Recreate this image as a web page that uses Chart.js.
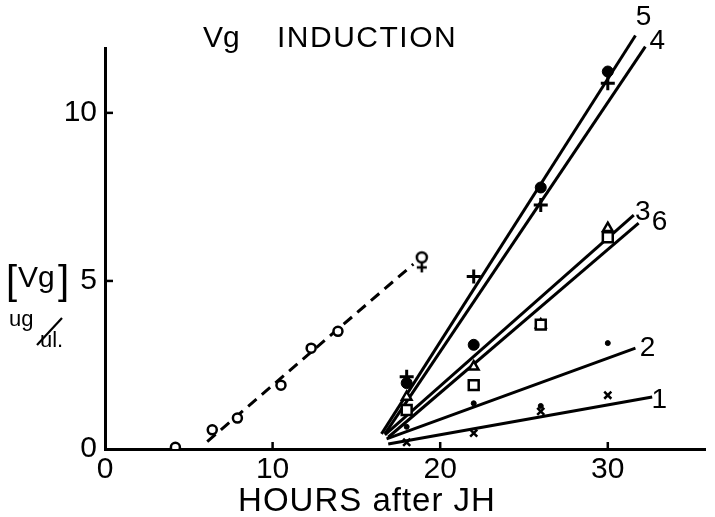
<!DOCTYPE html>
<html>
<head>
<meta charset="utf-8">
<script src="https://cdn.jsdelivr.net/npm/chart.js@4.4.1/dist/chart.umd.min.js"></script>
<style>
  html, body { margin: 0; padding: 0; background: #fff; }
  #wrap { width: 715px; height: 517px; }
</style>
</head>
<body>
<div id="wrap"><canvas id="c" width="715" height="517"></canvas></div>
<script>
// Sampling times after JH treatment (hours)
const sampleHours = [18, 22, 26, 30];

// Haemolymph Vg (ug/ul) for each treatment group
const vgGroup1 = [0.2, 0.47, 1.12, 1.6];    // x
const vgGroup2 = [0.66, 1.36, 1.28, 3.15];  // small dot
const vgGroup3 = [1.55, 2.45, 3.7, 6.57];   // open triangle
const vgGroup4 = [2.15, 5.13, 7.26, 10.88]; // cross
const vgGroup5 = [1.96, 3.1, 7.78, 11.23];  // filled circle
const vgGroup6 = [1.16, 1.9, 3.7, 6.3];     // open square

// Female reference series
const femaleHours = [4.2, 6.4, 7.9, 10.5, 12.3, 13.9, 18.9];
const femaleVg = [0.05, 0.57, 0.92, 1.9, 3.0, 3.5, 5.7];

// Regression lines (start and end), in order of group 1..6
const fitLabels = ['1', '2', '3', '4', '5', '6'];
const fitStartHours = [16.9, 16.8, 16.7, 16.7, 16.5, 16.9];
const fitStartVg = [0.15, 0.3, 0.42, 0.45, 0.45, 0.35];
const fitEndHours = [32.65, 31.65, 31.55, 32.24, 31.65, 31.84];
const fitEndVg = [1.55, 3.0, 6.96, 11.97, 12.3, 6.72];

// Female regression (dashed)
const femaleFitHours = [6.1, 18.4];
const femaleFitVg = [0.22, 5.5];

// Axis ticks
const xTicks = [0, 10, 20, 30];
const yTicks = [0, 5, 10];

const FONT = '"Liberation Sans", Arial, sans-serif';
const INK = '#000';

// Offsets (px) of each line's number from its end point
const fitLabelOffsets = [[7, 3], [12, 0], [9, -3], [12, -5], [8, -18], [21, -1]];

function pts(xs, ys) { return xs.map((x, i) => ({ x: x, y: ys[i] })); }

// Female symbol used for the last female point
function femaleGlyph() {
  const cv = document.createElement('canvas');
  cv.width = 20; cv.height = 42;
  const g = cv.getContext('2d');
  g.strokeStyle = INK; g.lineWidth = 2.5; g.fillStyle = '#fff';
  g.beginPath(); g.arc(10, 21, 5, 0, Math.PI * 2); g.fill(); g.stroke();
  g.beginPath(); g.moveTo(10, 26); g.lineTo(10, 36); g.moveTo(5, 31); g.lineTo(15, 31); g.stroke();
  return cv;
}
const femaleSymbol = femaleGlyph();

const datasets = [];

// regression lines
fitLabels.forEach((lab, i) => {
  datasets.push({
    type: 'line',
    label: 'fit ' + lab,
    data: pts([fitStartHours[i], fitEndHours[i]], [fitStartVg[i], fitEndVg[i]]),
    borderColor: INK, borderWidth: 3, pointRadius: 0, fill: false,
    clip: false, order: 5
  });
});
datasets.push({
  type: 'line',
  label: 'female fit',
  data: pts(femaleFitHours, femaleFitVg),
  borderColor: INK, borderWidth: 3, borderDash: [11, 7], pointRadius: 0,
  fill: false, order: 5
});

function markerSet(label, ys, style, radius, filled, width) {
  return {
    type: 'scatter', label: label, data: pts(sampleHours, ys),
    pointStyle: style, pointRadius: radius, borderColor: INK,
    backgroundColor: filled ? INK : '#fff', borderWidth: width, order: 1
  };
}
datasets.push(markerSet('1', vgGroup1, 'crossRot', 5, false, 2.5));
datasets.push(markerSet('2', vgGroup2, 'circle', 2.5, true, 1));
datasets.push(markerSet('6', vgGroup6, 'rect', 7, false, 2.5));
datasets.push(markerSet('3', vgGroup3, 'triangle', 5.5, false, 2.5));
datasets.push(markerSet('5', vgGroup5, 'circle', 5.5, true, 1));
datasets.push(markerSet('4', vgGroup4, 'cross', 7, false, 3));

datasets.push({
  type: 'scatter', label: 'female',
  data: pts(femaleHours, femaleVg),
  pointStyle: femaleHours.map((h, i) => i === femaleHours.length - 1 ? femaleSymbol : 'circle'),
  pointRadius: 4.5, borderColor: INK, backgroundColor: '#fff', borderWidth: 2.5, order: 1
});

const decor = {
  id: 'decor',
  beforeDraw(chart) {
    const c = chart.ctx;
    c.save(); c.fillStyle = '#fff'; c.fillRect(0, 0, chart.width, chart.height); c.restore();
  },
  afterDraw(chart) {
    const c = chart.ctx;
    const xs = chart.scales.x, ys = chart.scales.y;
    const a = chart.chartArea;
    c.save();
    c.strokeStyle = INK; c.fillStyle = INK; c.lineWidth = 2.5;

    // inward tick marks
    xTicks.slice(1).forEach(v => {
      const px = xs.getPixelForValue(v);
      c.beginPath(); c.moveTo(px, a.bottom); c.lineTo(px, a.bottom - 7); c.stroke();
    });
    yTicks.slice(1).forEach(v => {
      const py = ys.getPixelForValue(v);
      c.beginPath(); c.moveTo(a.left, py); c.lineTo(a.left + 8, py); c.stroke();
    });

    // title
    c.textBaseline = 'alphabetic'; c.textAlign = 'left';
    c.font = '30px ' + FONT;
    c.fillText('Vg', 203, 47);
    c.letterSpacing = '1.5px';
    c.fillText('INDUCTION', 277, 47);
    c.letterSpacing = '0px';

    // x axis title
    c.font = '33px ' + FONT;
    c.textAlign = 'center';
    c.letterSpacing = '1px';
    c.fillText('HOURS after JH', 367, 511);
    c.letterSpacing = '0px';

    // y axis title
    c.textAlign = 'left';
    c.font = '40px ' + FONT;
    c.fillText('[', 6, 294);
    c.fillText(']', 58, 294);
    c.font = '30px ' + FONT;
    c.fillText('Vg', 18, 287);
    c.font = '22px ' + FONT;
    c.fillText('ug', 9, 326);
    c.fillText('ul.', 40, 347);
    c.lineWidth = 2.2;
    c.beginPath(); c.moveTo(37, 345); c.lineTo(62, 318); c.stroke();

    // line numbers
    c.font = '28px ' + FONT;
    c.textAlign = 'center'; c.textBaseline = 'middle';
    fitLabels.forEach((lab, i) => {
      const px = xs.getPixelForValue(fitEndHours[i]) + fitLabelOffsets[i][0];
      const py = ys.getPixelForValue(fitEndVg[i]) + fitLabelOffsets[i][1];
      c.fillText(lab, px, py);
    });
    c.restore();
  }
};

new Chart(document.getElementById('c'), {
  data: { datasets: datasets },
  options: {
    responsive: false,
    maintainAspectRatio: false,
    animation: false,
    devicePixelRatio: 1,
    layout: { padding: { top: 48, right: 0, left: 0, bottom: 0 } },
    plugins: { legend: { display: false }, title: { display: false }, tooltip: { enabled: false } },
    scales: {
      x: {
        type: 'linear', position: 'bottom', min: 0, max: 35.8,
        border: { display: true, color: INK, width: 3 },
        grid: { display: true, drawOnChartArea: false, drawTicks: false },
        ticks: {
          stepSize: 10, includeBounds: false, autoSkip: false, maxRotation: 0,
          padding: 3, color: INK, font: { family: FONT, size: 30 }
        },
        afterFit(s) { s.height = 68; }
      },
      y: {
        type: 'linear', position: 'left', min: 0, max: 11.93,
        border: { display: true, color: INK, width: 3 },
        grid: { display: true, drawOnChartArea: false, drawTicks: false },
        ticks: {
          stepSize: 5, includeBounds: false, autoSkip: false,
          padding: 8, color: INK, font: { family: FONT, size: 30 }
        },
        afterFit(s) { s.width = 105; }
      }
    }
  },
  plugins: [decor]
});
</script>
</body>
</html>
